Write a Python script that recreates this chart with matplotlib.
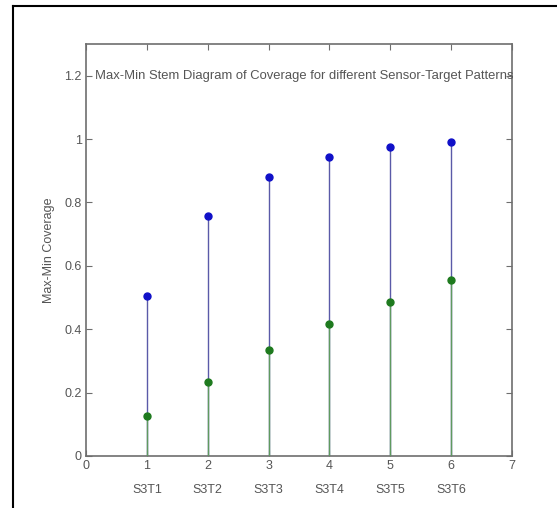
import matplotlib
matplotlib.use("Agg")
import matplotlib.pyplot as plt
from matplotlib.lines import Line2D
from matplotlib.transforms import blended_transform_factory

# Sensor-target patterns and their coverage extremes
patterns = ["S3T1", "S3T2", "S3T3", "S3T4", "S3T5", "S3T6"]
positions = [1, 2, 3, 4, 5, 6]
max_coverage = [0.505, 0.757, 0.880, 0.942, 0.975, 0.990]
min_coverage = [0.127, 0.232, 0.333, 0.416, 0.487, 0.556]
x_ticks = [0, 1, 2, 3, 4, 5, 6, 7]
y_ticks = [0, 0.2, 0.4, 0.6, 0.8, 1, 1.2]
y_tick_labels = ["0", "0.2", "0.4", "0.6", "0.8", "1", "1.2"]

plt.rcParams["font.family"] = ["Liberation Sans", "DejaVu Sans"]

W, H = 557, 508
fig = plt.figure(figsize=(W / 100, H / 100), dpi=100)
ax = fig.add_axes([86 / W, 1 - 456 / H, (512 - 86) / W, (456 - 44) / H])

axis_gray = "#6e6e6e"
text_gray = "#555555"
blue = "#1010c8"
green = "#1e7a1e"

# Max stems (drawn first) and min stems on top
for x, v in zip(positions, max_coverage):
    ax.plot([x, x], [0, v], color="#5a5aa8", lw=1.0, zorder=2)
ax.plot(positions, max_coverage, "o", color=blue, ms=5, zorder=4)
for x, v in zip(positions, min_coverage):
    ax.plot([x, x], [0, v], color="#5f9a5f", lw=1.0, zorder=3)
ax.plot(positions, min_coverage, "o", color=green, ms=5, zorder=4)

ax.set_xlim(0, 7)
ax.set_ylim(0, 1.3)
ax.set_xticks(x_ticks)
ax.set_xticklabels([str(t) for t in x_ticks])
ax.set_yticks(y_ticks)
ax.set_yticklabels(y_tick_labels)

ax.tick_params(direction="in", length=4, width=0.8, color=axis_gray,
               labelcolor=text_gray, labelsize=9, top=True, right=True,
               pad=3)
for s in ax.spines.values():
    s.set_color(axis_gray)
    s.set_linewidth(1.2)

# Pattern names beneath the numeric ticks
trans = blended_transform_factory(ax.transData, ax.transAxes)
for x, name in zip(positions, patterns):
    ax.text(x, -0.082, name, transform=trans, ha="center", va="center",
            fontsize=9, color=text_gray)

ax.set_ylabel("Max-Min Coverage", fontsize=9, color=text_gray, labelpad=7)

ax.text(0.15, 1.2, "Max-Min Stem Diagram of Coverage for different Sensor-Target Patterns",
        fontsize=9.4, color=text_gray, va="center", ha="left", zorder=5)

# Page frame: left and top borders
fig.add_artist(Line2D([12.5 / W, 12.5 / W], [0, 1 - 6 / H], color="black", lw=1.5,
                      transform=fig.transFigure))
fig.add_artist(Line2D([12.5 / W, 1], [1 - 6 / H, 1 - 6 / H], color="black", lw=1.5,
                      transform=fig.transFigure))

fig.savefig("out.png", dpi=100)
